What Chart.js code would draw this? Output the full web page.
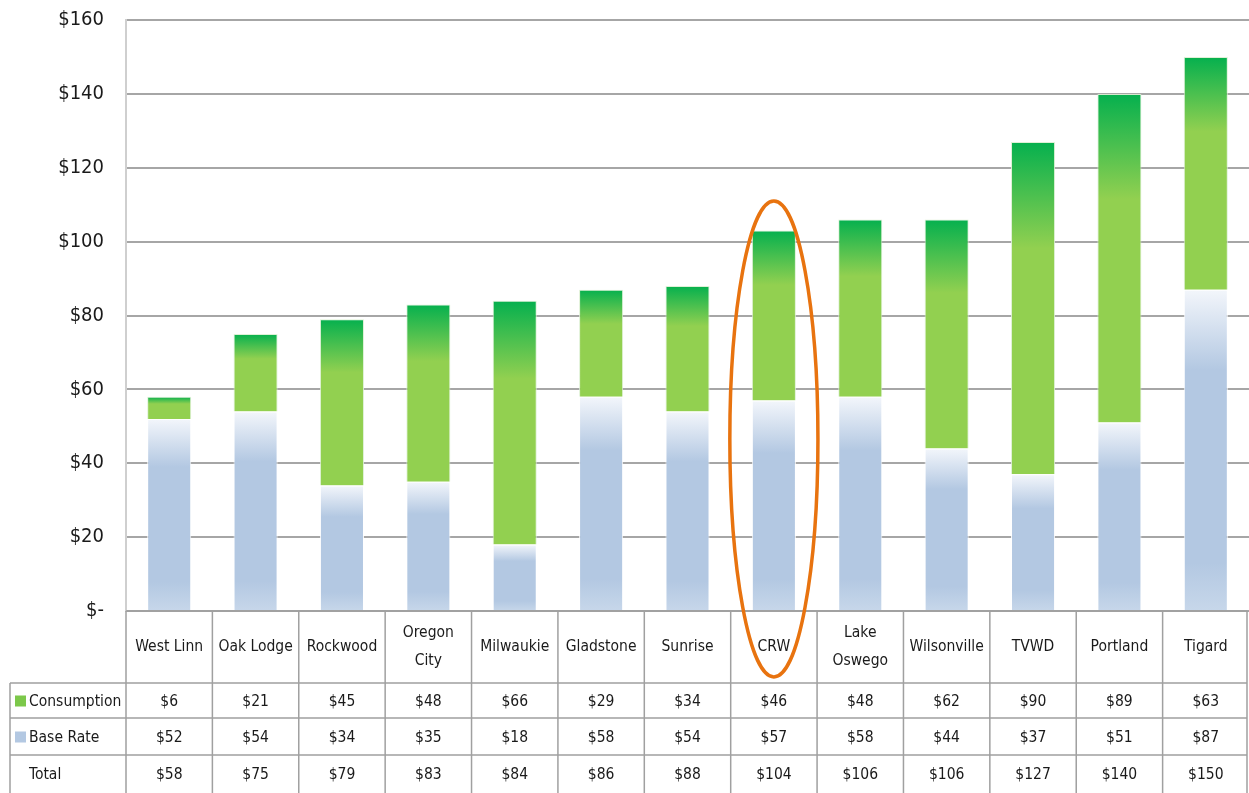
<!DOCTYPE html>
<html>
<head>
<meta charset="utf-8">
<script src="https://cdn.jsdelivr.net/npm/chart.js@4.4.0/dist/chart.umd.min.js"></script>
<style>
    html, body { margin: 0; padding: 0; background: #fff; }
    #wrap { width: 1249px; height: 793px; }
</style>
</head>
<body>
<div id="wrap"><canvas id="rate-chart" width="1249" height="793"></canvas></div>
<script>
// Monthly bill by provider, split into base rate and consumption
const providers = [['West Linn'], ['Oak Lodge'], ['Rockwood'], ['Oregon', 'City'], ['Milwaukie'],
    ['Gladstone'], ['Sunrise'], ['CRW'], ['Lake', 'Oswego'], ['Wilsonville'], ['TVWD'], ['Portland'], ['Tigard']];
const consumption = [6, 21, 45, 48, 66, 29, 34, 46, 48, 62, 90, 89, 63];
const baseRate = [52, 54, 34, 35, 18, 58, 54, 57, 58, 44, 37, 51, 87];
const totals = [58, 75, 79, 83, 84, 86, 88, 104, 106, 106, 127, 140, 150];
const yTicks = [0, 20, 40, 60, 80, 100, 120, 140, 160];
const highlighted = 'CRW';

const FONT = "'Liberation Sans Narrow', 'DejaVu Sans Condensed', 'Open Sans', sans-serif";

function money(v) {
    return v === 0 ? '$-' : '$' + v;
}

// gradient for one bar segment, from its pixel top to bottom
function segmentFill(context, stops, fallback) {
    const chart = context.chart;
    const area = chart.chartArea;
    if (!area || context.dataIndex === undefined) return fallback;
    const i = context.dataIndex;
    const y = chart.scales.y;
    let lo = 0, hi = 0;
    if (context.datasetIndex === 0) {
        hi = baseRate[i];
    } else {
        lo = baseRate[i];
        hi = baseRate[i] + consumption[i];
    }
    const top = y.getPixelForValue(hi);
    const bottom = y.getPixelForValue(lo);
    const g = chart.ctx.createLinearGradient(0, top, 0, bottom);
    stops.forEach(s => g.addColorStop(s[0], s[1]));
    return g;
}

const tablePlugin = {
    id: 'dataTable',
    afterDraw(chart) {
        const ctx = chart.ctx;
        const area = chart.chartArea;
        const x = chart.scales.x;
        const n = providers.length;
        const colW = (area.right - area.left) / n;
        const rows = [area.bottom, area.bottom + 72, area.bottom + 107, area.bottom + 144, chart.height];
        const leftEdge = 10;
        const rightEdge = chart.width - 2;

        ctx.save();
        ctx.strokeStyle = '#a0a0a0';
        ctx.lineWidth = 1.5;
        ctx.beginPath();
        // horizontal rules
        ctx.moveTo(area.left, rows[0]); ctx.lineTo(rightEdge, rows[0]);
        for (let r = 1; r < 4; r++) {
            ctx.moveTo(leftEdge, rows[r]); ctx.lineTo(rightEdge, rows[r]);
        }
        // vertical rules
        ctx.moveTo(leftEdge, rows[1]); ctx.lineTo(leftEdge, rows[4]);
        for (let c = 0; c <= n; c++) {
            const px = Math.min(area.left + c * colW, rightEdge);
            ctx.moveTo(px, rows[0]); ctx.lineTo(px, rows[4]);
        }
        ctx.stroke();

        ctx.fillStyle = '#1a1a1a';
        ctx.font = '15.5px ' + FONT;
        ctx.textAlign = 'center';
        ctx.textBaseline = 'middle';
        providers.forEach((lines, i) => {
            const cx = x.getPixelForValue(i);
            const mid = (rows[0] + rows[1]) / 2;
            lines.forEach((t, k) => {
                ctx.fillText(t, cx, mid + (k - (lines.length - 1) / 2) * 28);
            });
            ctx.fillText('$' + consumption[i], cx, (rows[1] + rows[2]) / 2 + 1);
            ctx.fillText('$' + baseRate[i], cx, (rows[2] + rows[3]) / 2 + 1);
            ctx.fillText('$' + totals[i], cx, (rows[3] + rows[4]) / 2 + 1);
        });

        // row headers with legend keys
        ctx.textAlign = 'left';
        const labels = [['Consumption', '#7cc84a'], ['Base Rate', '#b3c8e2'], ['Total', null]];
        labels.forEach((l, r) => {
            const cy = (rows[r + 1] + rows[r + 2]) / 2 + 1;
            if (l[1]) {
                ctx.fillStyle = l[1];
                ctx.fillRect(15, cy - 6, 11, 11);
            }
            ctx.fillStyle = '#1a1a1a';
            ctx.fillText(l[0], 29, cy);
        });

        // highlight ring round one provider
        const idx = providers.findIndex(p => p[0] === highlighted);
        const cx = x.getPixelForValue(idx);
        const yTop = chart.scales.y.getPixelForValue(111);
        const yBottom = rows[0] + 66;
        ctx.strokeStyle = '#e8730f';
        ctx.lineWidth = 3.5;
        ctx.beginPath();
        ctx.ellipse(cx, (yTop + yBottom) / 2, colW * 0.51, (yBottom - yTop) / 2, 0, 0, Math.PI * 2);
        ctx.stroke();
        ctx.restore();
    }
};

const ctx = document.getElementById('rate-chart').getContext('2d');
const rateChart = new Chart(ctx, {
    type: 'bar',
    data: {
        labels: providers.map(p => p.join(' ')),
        datasets: [{
            label: 'Base Rate',
            data: baseRate,
            backgroundColor: c => segmentFill(c, [[0, '#f3f6fb'], [0.25, '#b3c8e2'], [0.85, '#b3c8e2'], [1, '#c7d7ea']], '#b3c8e2'),
            borderColor: 'rgba(255,255,255,0.9)',
            borderWidth: 1,
            barPercentage: 0.51,
            categoryPercentage: 1.0
        }, {
            label: 'Consumption',
            data: consumption,
            backgroundColor: c => segmentFill(c, [[0, '#05b04e'], [0.32, '#92d050'], [1, '#92d050']], '#92d050'),
            borderColor: 'rgba(220,240,210,0.9)',
            borderWidth: 1,
            barPercentage: 0.51,
            categoryPercentage: 1.0
        }]
    },
    options: {
        responsive: false,
        animation: false,
        layout: { padding: { top: 20, bottom: 182, left: 0, right: 0 } },
        plugins: {
            legend: { display: false },
            tooltip: { enabled: false }
        },
        scales: {
            x: {
                stacked: true,
                display: false
            },
            y: {
                stacked: true,
                min: 0,
                max: 160,
                afterBuildTicks: axis => { axis.ticks = yTicks.map(v => ({ value: v })); },
                afterFit: axis => {
                    axis.width = 126;
                    axis.paddingTop = 0;
                    axis.paddingBottom = 0;
                },
                ticks: {
                    callback: v => money(v),
                    color: '#1a1a1a',
                    padding: 22,
                    font: { family: FONT, size: 20 }
                },
                grid: {
                    color: '#a6a6a6',
                    lineWidth: 2,
                    drawTicks: false
                },
                border: { color: '#cfcfcf', width: 2 }
            }
        }
    },
    plugins: [tablePlugin]
});
</script>
</body>
</html>
